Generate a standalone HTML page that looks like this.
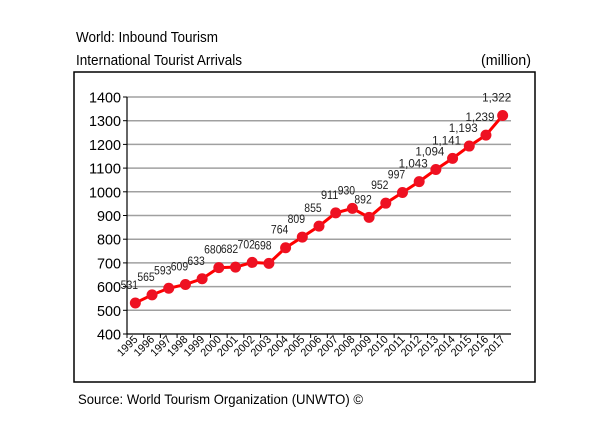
<!DOCTYPE html>
<html><head><meta charset="utf-8"><style>
html,body{margin:0;padding:0;background:#fff;}
svg{display:block;font-family:"Liberation Sans",sans-serif;}
</style></head><body>
<svg id="chart" width="603" height="423" viewBox="0 0 603 423">
<text x="76" y="42" font-size="15" textLength="142" lengthAdjust="spacingAndGlyphs">World: Inbound Tourism</text>
<text x="76" y="65" font-size="15" textLength="166" lengthAdjust="spacingAndGlyphs">International Tourist Arrivals</text>
<text x="531" y="65" font-size="15" text-anchor="end" textLength="50" lengthAdjust="spacingAndGlyphs">(million)</text>
<rect x="74" y="72" width="461" height="310" fill="none" stroke="#000" stroke-width="1.5"/>
<g id="grid"></g><g id="axes"></g><g id="series"></g>
<text x="78" y="404" font-size="14" textLength="285" lengthAdjust="spacingAndGlyphs">Source: World Tourism Organization (UNWTO) ©</text>
</svg>
<script>
const years=["1995","1996","1997","1998","1999","2000","2001","2002","2003","2004","2005","2006","2007","2008","2009","2010","2011","2012","2013","2014","2015","2016","2017"];
const arrivals=[531,565,593,609,633,680,682,702,698,764,809,855,911,930,892,952,997,1043,1094,1141,1193,1239,1322];
const valueLabels=["531","565","593","609","633","680","682","702","698","764","809","855","911","930","892","952","997","1,043","1,094","1,141","1,193","1,239","1,322"];
const yTicks=[400,500,600,700,800,900,1000,1100,1200,1300,1400];
const NS="http://www.w3.org/2000/svg";
const L=127,R=511,T=97,B=334,ymin=400,ymax=1400;
const slot=(R-L)/years.length;
function xs(i){return L+slot*(i+0.5);}
function ys(v){return B-(v-ymin)/(ymax-ymin)*(B-T);}
function mk(tag,attrs,parent){const e=document.createElementNS(NS,tag);for(const k in attrs)e.setAttribute(k,attrs[k]);parent.appendChild(e);return e;}
const grid=document.getElementById('grid'),axes=document.getElementById('axes'),series=document.getElementById('series');
yTicks.forEach(v=>{
  if(v>ymin){const g=mk('line',{x1:L,x2:R,y1:ys(v),y2:ys(v),stroke:'#a0a0a0','stroke-width':1.5},grid);
  
  }
  const tk=mk('line',{x1:L-4,x2:L,y1:ys(v),y2:ys(v),stroke:'#000'},axes);
  
  
  const t=mk('text',{x:L-6,y:ys(v)+5.5,'font-size':15,'text-anchor':'end',textLength:String(v).length*8,lengthAdjust:'spacingAndGlyphs'},axes);
  t.textContent=v;
  
  
});
const ya=mk('line',{x1:L,x2:L,y1:T,y2:B,stroke:'#000','stroke-width':1.2},axes);


const xa=mk('line',{x1:L,x2:R,y1:B,y2:B,stroke:'#000','stroke-width':1.2},axes);


years.forEach((y,i)=>{
  const tk=mk('line',{x1:L+slot*i,x2:L+slot*i,y1:B,y2:B+4,stroke:'#000'},axes);
  
  
  const cx=xs(i)+3,cy=B+6;
  const t=mk('text',{x:cx,y:cy,'font-size':11,'text-anchor':'end',transform:`rotate(-45 ${cx} ${cy})`,textLength:24,lengthAdjust:'spacingAndGlyphs'},axes);
  t.textContent=y;
  
  
});
const pts=arrivals.map((v,i)=>xs(i)+','+ys(v)).join(' ');
const pl=mk('polyline',{points:pts,fill:'none',stroke:'#ff0000','stroke-width':3},series);


arrivals.forEach((v,i)=>{
  const c=mk('circle',{cx:xs(i),cy:ys(v),r:5.5,fill:'#ee1122'},series);
  
  
  const lab=valueLabels[i];
  const t=mk('text',{x:xs(i)-6,y:ys(v)-14,'font-size':12,'text-anchor':'middle',fill:'#222',textLength:lab.length*5.8,lengthAdjust:'spacingAndGlyphs'},series);
  t.textContent=lab;
  
  
});
</script>
</body></html>
